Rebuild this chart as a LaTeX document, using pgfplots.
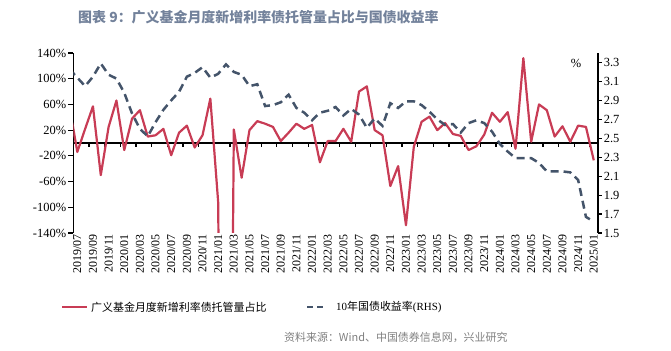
\documentclass[border=0pt]{standalone}
\usepackage{pgfplots}
\pgfplotsset{compat=1.18}
\usepackage{fontspec}
\setmainfont{Liberation Serif}
\newfontfamily\cjk{Noto Sans CJK SC}
\definecolor{redl}{RGB}{200,60,85}
\definecolor{bluel}{RGB}{68,84,106}
\definecolor{titlec}{RGB}{115,130,155}
\definecolor{srcc}{RGB}{128,128,128}
\begin{document}
\begin{tikzpicture}
\useasboundingbox (0,0) rectangle (671bp,351bp);
\node[anchor=west, inner sep=0, text=titlec, font=\cjk\bfseries\fontsize{14}{16}\selectfont] at (78bp,334bp) {图表 9：广义基金月度新增利率债托管量占比与国债收益率};
% zero line with ticks
\begin{axis}[at={(73.4bp,118bp)}, anchor=south west, scale only axis,
  width=524.3bp, height=180bp, xmin=-0.5, xmax=66.5, ymin=-140, ymax=140,
  axis x line=middle, axis y line=none,
  xtick={1.5,3.5,...,65.5}, xticklabels={}, xtick align=outside,
  major tick length=4bp,
  x axis line style={-, line width=1.8bp, black},
  xtick style={line width=1.2bp, black}, ytick=\empty]
\addplot[draw=none] coordinates {(0,0)};
\end{axis}
% left axis, red series
\begin{axis}[at={(73.4bp,118bp)}, anchor=south west, scale only axis,
  width=524.3bp, height=180bp, xmin=-0.5, xmax=66.5, ymin=-140, ymax=140,
  axis y line*=left, axis x line*=bottom,
  x axis line style={draw=none}, xtick style={draw=none},
  y axis line style={-, line width=1.6bp, black},
  ytick style={line width=1.2bp, black}, ytick align=outside, major tick length=5bp,
  xtick={0,2,...,66},
  xticklabels={2019/07,2019/09,2019/11,2020/01,2020/03,2020/05,2020/07,2020/09,2020/11,2021/01,2021/03,2021/05,2021/07,2021/09,2021/11,2022/01,2022/03,2022/05,2022/07,2022/09,2022/11,2023/01,2023/03,2023/05,2023/07,2023/09,2023/11,2024/01,2024/03,2024/05,2024/07,2024/09,2024/11,2025/01},
  xticklabel style={rotate=90, anchor=east, font=\fontsize{12}{12}\selectfont, inner sep=1bp},
  ytick={-140,-100,-60,-20,20,60,100,140},
  yticklabels={-140\%,-100\%,-60\%,-20\%,20\%,60\%,100\%,140\%},
  yticklabel style={font=\fontsize{12.5}{13}\selectfont, inner sep=2bp}]
\addplot[redl, line width=2.2bp, line join=round] coordinates {
(-1,57)(0,-14)(1,22)(2,57)(3,-50)(4,25)(5,66)(6,-11)(7,38)(8,51)(9,10)
(10,12)(11,22)(12,-19)(13,16)(14,27)(15,-7)(16,12)(17,69)(18,-92)(19,-1500)
(20,21)(21,-54)(22,20)(23,34)(24,30)(25,25)(26,3)(27,16)(28,30)(29,22)
(30,28)(31,-30)(32,3)(33,3)(34,22)(35,2)(36,80)(37,88)(38,20)(39,12)
(40,-67)(41,-36)(42,-128)(43,-6)(44,33)(45,41)(46,20)(47,31)(48,14)(49,11)
(50,-11)(51,-5)(52,13)(53,47)(54,33)(55,48)(56,-9)(57,132)(58,2)(59,60)
(60,51)(61,10)(62,26)(63,2)(64,27)(65,25)(66,-27)};
\end{axis}
% right axis, blue series
\begin{axis}[at={(73.4bp,118bp)}, anchor=south west, scale only axis,
  width=524.3bp, height=180bp, xmin=-0.5, xmax=66.5, ymin=1.5, ymax=3.4,
  axis y line*=right, axis x line=none,
  y axis line style={-, line width=1.6bp, black},
  ytick style={line width=1.2bp, black}, ytick align=outside, major tick length=4bp,
  ytick={1.5,1.7,1.9,2.1,2.3,2.5,2.7,2.9,3.1,3.3},
  yticklabels={1.5,1.7,1.9,2.1,2.3,2.5,2.7,2.9,3.1,3.3},
  yticklabel style={font=\fontsize{12.5}{13}\selectfont, inner sep=2bp}]
\addplot[bluel, line width=2.5bp, dash pattern=on 8bp off 5bp] coordinates {
(-1,3.23)(0,3.14)(1,3.05)(2,3.15)(3,3.29)(4,3.17)(5,3.13)(6,2.98)(7,2.76)(8,2.60)(9,2.52)
(10,2.67)(11,2.80)(12,2.90)(13,2.99)(14,3.15)(15,3.19)(16,3.25)(17,3.14)(18,3.18)(19,3.28)
(20,3.20)(21,3.17)(22,3.05)(23,3.07)(24,2.84)(25,2.85)(26,2.88)(27,2.96)(28,2.82)(29,2.77)
(30,2.69)(31,2.77)(32,2.79)(33,2.83)(34,2.74)(35,2.81)(36,2.75)(37,2.61)(38,2.71)(39,2.63)
(40,2.87)(41,2.82)(42,2.89)(43,2.89)(44,2.85)(45,2.78)(46,2.70)(47,2.64)(48,2.65)(49,2.56)
(50,2.66)(51,2.69)(52,2.66)(53,2.57)(54,2.44)(55,2.36)(56,2.29)(57,2.29)(58,2.29)(59,2.24)
(60,2.15)(61,2.15)(62,2.15)(63,2.14)(64,2.06)(65,1.67)(66,1.62)};
\end{axis}
\node[font=\fontsize{12.5}{13}\selectfont, inner sep=0] at (576bp,288bp) {\%};
% legend
\draw[redl, line width=2.2bp] (62bp,44bp) -- (87bp,44bp);
\node[anchor=west, inner sep=0, font=\cjk\fontsize{11}{13}\selectfont] at (91bp,44bp) {广义基金月度新增利率债托管量占比};
\draw[bluel, line width=2.5bp, dash pattern=on 6bp off 4bp] (307bp,44bp) -- (323bp,44bp);
\node[anchor=west, inner sep=0, font=\fontsize{11}{13}\selectfont] at (336bp,44bp) {10{\cjk 年国债收益率}(RHS)};
% source
\node[anchor=west, inner sep=0, text=srcc, font=\cjk\fontsize{11}{13}\selectfont] at (284bp,14bp) {资料来源：Wind、中国债券信息网，兴业研究};
\end{tikzpicture}
\end{document}
